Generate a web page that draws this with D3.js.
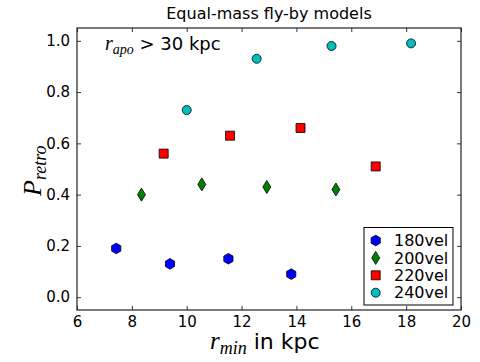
<!DOCTYPE html>
<html>
<head>
<meta charset="utf-8">
<script src="https://cdn.jsdelivr.net/npm/d3@7/dist/d3.min.js"></script>
<style>
  body { margin: 0; background: #fff; }
  text { font-family: "DejaVu Sans", sans-serif; fill: #000; }
  .math { font-family: "Liberation Serif", serif; font-style: italic; }
</style>
</head>
<body>
<svg id="chart" width="480" height="362"></svg>
<script>
// values
const seriesNames = ["180vel", "200vel", "220vel", "240vel"];
const rmin180 = [7.43, 9.39, 11.52, 13.81];
const pretro180 = [0.19, 0.13, 0.15, 0.09];
const rmin200 = [8.35, 10.55, 12.92, 15.44];
const pretro200 = [0.40, 0.44, 0.43, 0.42];
const rmin220 = [9.16, 11.58, 14.15, 16.89];
const pretro220 = [0.56, 0.63, 0.66, 0.51];
const rmin240 = [10.0, 12.55, 15.28, 18.18];
const pretro240 = [0.73, 0.93, 0.98, 0.99];
const xTicks = [6, 8, 10, 12, 14, 16, 18, 20];
const yTicks = [0.0, 0.2, 0.4, 0.6, 0.8, 1.0];

const svg = d3.select("#chart");
const margin = { left: 77, right: 19, top: 28, bottom: 52 };
const width = 480 - margin.left - margin.right;
const height = 362 - margin.top - margin.bottom;

const x = d3.scaleLinear().domain([6, 20]).range([0, width]);
const y = d3.scaleLinear().domain([-0.05, 1.05]).range([height, 0]);

const g = svg.append("g").attr("transform", `translate(${margin.left},${margin.top})`);

// marker shapes, matplotlib style: h, d, s, o
function hexagon(r) {
  const pts = d3.range(6).map(i => {
    const a = Math.PI / 2 + i * Math.PI / 3;
    return [r * Math.cos(a), r * Math.sin(a)];
  });
  return "M" + pts.join("L") + "Z";
}
const markers = {
  "180vel": { color: "#0000ff", path: hexagon(5.3) },
  "200vel": { color: "#008000", path: "M0,-6.5L4,0L0,6.5L-4,0Z" },
  "220vel": { color: "#ff0000", path: "M-4.5,-4.5L4.5,-4.5L4.5,4.5L-4.5,4.5Z" },
  "240vel": { color: "#00bfbf", path: d3.symbol(d3.symbolCircle, Math.PI * 4.5 * 4.5)() }
};

const data = [
  { name: "180vel", xs: rmin180, ys: pretro180 },
  { name: "200vel", xs: rmin200, ys: pretro200 },
  { name: "220vel", xs: rmin220, ys: pretro220 },
  { name: "240vel", xs: rmin240, ys: pretro240 }
];

// axes: inward ticks on all four sides
const tickLen = 4;
g.append("g")
  .attr("transform", `translate(0,${height})`)
  .call(d3.axisBottom(x).tickValues(xTicks).tickSize(-tickLen).tickPadding(6).tickFormat(d3.format("d")))
  .call(a => a.selectAll("text").style("font-size", "15px"));
g.append("g")
  .call(d3.axisTop(x).tickValues(xTicks).tickSize(-tickLen).tickFormat(""));
g.append("g")
  .call(d3.axisLeft(y).tickValues(yTicks).tickSize(-tickLen).tickPadding(7).tickFormat(d3.format(".1f")))
  .call(a => a.selectAll("text").style("font-size", "15px"));
g.append("g")
  .attr("transform", `translate(${width},0)`)
  .call(d3.axisRight(y).tickValues(yTicks).tickSize(-tickLen).tickFormat(""));
g.selectAll(".domain").remove();
g.selectAll(".tick line").attr("stroke", "#000").attr("stroke-width", 0.8);

g.append("rect")
  .attr("width", width).attr("height", height)
  .attr("fill", "none").attr("stroke", "#222").attr("stroke-width", 1.2);

// points
data.forEach(s => {
  g.selectAll(null)
    .data(s.xs.map((v, i) => [v, s.ys[i]]))
    .enter().append("path")
    .attr("d", markers[s.name].path)
    .attr("transform", d => `translate(${x(d[0])},${y(d[1])})`)
    .attr("fill", markers[s.name].color)
    .attr("stroke", "#000")
    .attr("stroke-width", 0.8);
});

// legend
const lg = g.append("g").attr("transform", `translate(${width - 97},${height - 82.5})`);
lg.append("rect").attr("width", 89).attr("height", 77.5)
  .attr("fill", "#fff").attr("stroke", "#000").attr("stroke-width", 1);
seriesNames.forEach((name, i) => {
  const row = lg.append("g").attr("transform", `translate(0,${13 + i * 17.4})`);
  row.append("path").attr("d", markers[name].path)
    .attr("transform", "translate(11.7,0)")
    .attr("fill", markers[name].color).attr("stroke", "#000").attr("stroke-width", 0.8);
  row.append("text").attr("x", 30).attr("dy", "0.36em")
    .style("font-size", "16px").text(name);
});

// title
svg.append("text").attr("x", margin.left + width / 2).attr("y", 19)
  .attr("text-anchor", "middle").style("font-size", "16px")
  .text("Equal-mass fly-by models");

// annotation r_apo > 30 kpc
const ann = svg.append("text").attr("x", 105).attr("y", 50).style("font-size", "18px");
ann.append("tspan").attr("class", "math").style("font-size", "20px").text("r");
ann.append("tspan").attr("class", "math").attr("dy", 4).style("font-size", "14px").text("apo");
ann.append("tspan").attr("dy", -4).text(" > 30 kpc");

// x label
const xl = svg.append("text").attr("x", 210).attr("y", 349).style("font-size", "22px");
xl.append("tspan").attr("class", "math").style("font-size", "25px").text("r");
xl.append("tspan").attr("class", "math").attr("dy", 5).style("font-size", "18px").text("min");
xl.append("tspan").attr("dy", -5).text(" in kpc");

// y label
const yl = svg.append("text")
  .attr("transform", "translate(41,196) rotate(-90)");
yl.append("tspan").attr("class", "math").style("font-size", "26px").text("P");
yl.append("tspan").attr("class", "math").attr("dy", 5).style("font-size", "18px").text("retro");
</script>
</body>
</html>
